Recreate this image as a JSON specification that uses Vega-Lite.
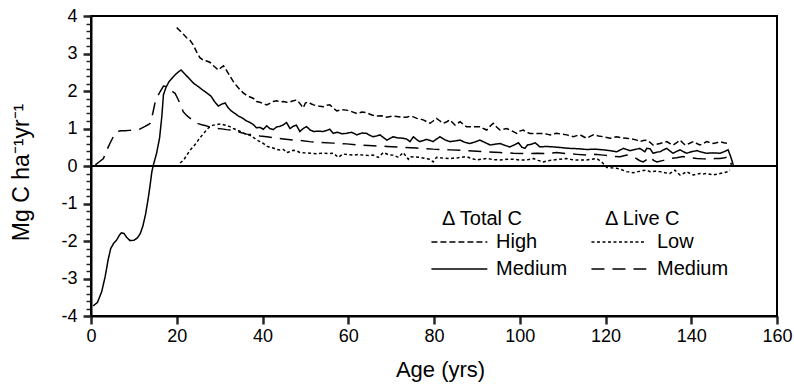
{
  "$schema": "https://vega.github.io/schema/vega-lite/v6.json",
  "width": 686,
  "height": 300,
  "autosize": {"type": "none"},
  "padding": {"left": 91, "top": 16, "right": 17, "bottom": 69},
  "background": "white",
  "config": {
    "font": "Liberation Sans",
    "view": {"stroke": "black", "strokeWidth": 2},
    "axis": {"domainColor": "black", "domainWidth": 2, "labelColor": "black", "titleColor": "black", "grid": false, "labelFont": "Liberation Sans", "titleFont": "Liberation Sans", "titleFontWeight": "normal", "labelFlush": false, "zindex": 2},
    "legend": {"labelFont": "Liberation Sans", "titleFont": "Liberation Sans", "titleFontWeight": "normal", "labelColor": "black", "titleColor": "black"}
  },
  "datasets": {
    "total": [
      {"k":"Medium","a":0.5,"v":-3.73},{"k":"Medium","a":1.5,"v":-3.64},{"k":"Medium","a":2.5,"v":-3.35},{"k":"Medium","a":3.3,"v":-2.95},{"k":"Medium","a":4.0,"v":-2.5},{"k":"Medium","a":4.6,"v":-2.2},{"k":"Medium","a":5.3,"v":-2.06},{"k":"Medium","a":6.0,"v":-1.97},{"k":"Medium","a":6.6,"v":-1.85},{"k":"Medium","a":7.1,"v":-1.78},{"k":"Medium","a":7.7,"v":-1.8},{"k":"Medium","a":8.3,"v":-1.9},{"k":"Medium","a":9.1,"v":-1.99},{"k":"Medium","a":10.0,"v":-1.98},{"k":"Medium","a":10.8,"v":-1.92},{"k":"Medium","a":11.5,"v":-1.8},{"k":"Medium","a":12.1,"v":-1.6},{"k":"Medium","a":12.7,"v":-1.3},{"k":"Medium","a":13.3,"v":-0.9},{"k":"Medium","a":13.8,"v":-0.5},{"k":"Medium","a":14.2,"v":-0.15},{"k":"Medium","a":14.6,"v":0.05},{"k":"Medium","a":15.3,"v":0.34},{"k":"Medium","a":16.0,"v":0.75},{"k":"Medium","a":16.5,"v":1.3},{"k":"Medium","a":16.9,"v":1.9},{"k":"Medium","a":17.5,"v":2.1},{"k":"Medium","a":18.2,"v":2.25},{"k":"Medium","a":18.8,"v":2.33},{"k":"Medium","a":19.6,"v":2.43},{"k":"Medium","a":20.3,"v":2.5},{"k":"Medium","a":21.0,"v":2.56},{"k":"Medium","a":22.0,"v":2.44},{"k":"Medium","a":23.0,"v":2.32},{"k":"Medium","a":24.0,"v":2.2},{"k":"Medium","a":25.0,"v":2.12},{"k":"Medium","a":26.0,"v":2.03},{"k":"Medium","a":27.0,"v":1.95},{"k":"Medium","a":28.0,"v":1.86},{"k":"Medium","a":28.8,"v":1.72},{"k":"Medium","a":29.7,"v":1.6},{"k":"Medium","a":30.5,"v":1.65},{"k":"Medium","a":31.3,"v":1.68},{"k":"Medium","a":32.0,"v":1.55},{"k":"Medium","a":32.8,"v":1.46},{"k":"Medium","a":33.6,"v":1.4},{"k":"Medium","a":34.4,"v":1.33},{"k":"Medium","a":35.3,"v":1.28},{"k":"Medium","a":36.3,"v":1.2},{"k":"Medium","a":37.1,"v":1.16},{"k":"Medium","a":37.9,"v":1.1},{"k":"Medium","a":38.6,"v":1.02},{"k":"Medium","a":39.4,"v":1.03},{"k":"Medium","a":40.2,"v":0.98},{"k":"Medium","a":41.0,"v":1.07},{"k":"Medium","a":41.7,"v":1.0},{"k":"Medium","a":42.5,"v":0.97},{"k":"Medium","a":43.3,"v":1.04},{"k":"Medium","a":44.1,"v":1.06},{"k":"Medium","a":44.9,"v":1.1},{"k":"Medium","a":45.6,"v":1.16},{"k":"Medium","a":46.4,"v":1.0},{"k":"Medium","a":47.2,"v":1.06},{"k":"Medium","a":47.9,"v":1.09},{"k":"Medium","a":48.7,"v":0.92},{"k":"Medium","a":49.5,"v":1.0},{"k":"Medium","a":50.3,"v":1.05},{"k":"Medium","a":51.1,"v":0.96},{"k":"Medium","a":51.9,"v":0.92},{"k":"Medium","a":53.0,"v":0.93},{"k":"Medium","a":54.2,"v":0.92},{"k":"Medium","a":55.0,"v":0.95},{"k":"Medium","a":55.7,"v":0.98},{"k":"Medium","a":56.5,"v":0.87},{"k":"Medium","a":57.5,"v":0.9},{"k":"Medium","a":58.5,"v":0.86},{"k":"Medium","a":59.6,"v":0.87},{"k":"Medium","a":60.8,"v":0.9},{"k":"Medium","a":62.0,"v":0.83},{"k":"Medium","a":63.2,"v":0.88},{"k":"Medium","a":64.3,"v":0.87},{"k":"Medium","a":65.0,"v":0.82},{"k":"Medium","a":65.8,"v":0.78},{"k":"Medium","a":66.6,"v":0.8},{"k":"Medium","a":67.4,"v":0.83},{"k":"Medium","a":68.2,"v":0.76},{"k":"Medium","a":69.0,"v":0.69},{"k":"Medium","a":69.8,"v":0.74},{"k":"Medium","a":70.5,"v":0.78},{"k":"Medium","a":71.6,"v":0.75},{"k":"Medium","a":72.8,"v":0.74},{"k":"Medium","a":73.6,"v":0.72},{"k":"Medium","a":74.4,"v":0.65},{"k":"Medium","a":75.2,"v":0.78},{"k":"Medium","a":76.0,"v":0.7},{"k":"Medium","a":76.7,"v":0.65},{"k":"Medium","a":77.5,"v":0.68},{"k":"Medium","a":78.3,"v":0.71},{"k":"Medium","a":79.1,"v":0.68},{"k":"Medium","a":79.8,"v":0.65},{"k":"Medium","a":80.6,"v":0.72},{"k":"Medium","a":81.4,"v":0.78},{"k":"Medium","a":82.5,"v":0.7},{"k":"Medium","a":83.7,"v":0.65},{"k":"Medium","a":85.0,"v":0.67},{"k":"Medium","a":86.1,"v":0.69},{"k":"Medium","a":87.2,"v":0.63},{"k":"Medium","a":88.4,"v":0.6},{"k":"Medium","a":89.5,"v":0.64},{"k":"Medium","a":90.7,"v":0.69},{"k":"Medium","a":92.0,"v":0.62},{"k":"Medium","a":93.1,"v":0.56},{"k":"Medium","a":94.2,"v":0.58},{"k":"Medium","a":95.4,"v":0.6},{"k":"Medium","a":96.5,"v":0.55},{"k":"Medium","a":97.7,"v":0.51},{"k":"Medium","a":98.7,"v":0.56},{"k":"Medium","a":99.7,"v":0.62},{"k":"Medium","a":100.5,"v":0.5},{"k":"Medium","a":101.2,"v":0.47},{"k":"Medium","a":101.8,"v":0.56},{"k":"Medium","a":102.7,"v":0.58},{"k":"Medium","a":103.6,"v":0.62},{"k":"Medium","a":104.7,"v":0.51},{"k":"Medium","a":106.2,"v":0.52},{"k":"Medium","a":107.8,"v":0.51},{"k":"Medium","a":109.7,"v":0.49},{"k":"Medium","a":111.7,"v":0.47},{"k":"Medium","a":113.6,"v":0.46},{"k":"Medium","a":115.6,"v":0.44},{"k":"Medium","a":117.5,"v":0.45},{"k":"Medium","a":119.5,"v":0.43},{"k":"Medium","a":121.0,"v":0.41},{"k":"Medium","a":122.6,"v":0.38},{"k":"Medium","a":124.2,"v":0.47},{"k":"Medium","a":125.7,"v":0.41},{"k":"Medium","a":126.9,"v":0.44},{"k":"Medium","a":128.0,"v":0.47},{"k":"Medium","a":129.2,"v":0.38},{"k":"Medium","a":129.6,"v":0.47},{"k":"Medium","a":130.4,"v":0.46},{"k":"Medium","a":131.1,"v":0.34},{"k":"Medium","a":132.0,"v":0.37},{"k":"Medium","a":132.7,"v":0.38},{"k":"Medium","a":133.5,"v":0.43},{"k":"Medium","a":134.3,"v":0.47},{"k":"Medium","a":135.0,"v":0.4},{"k":"Medium","a":135.8,"v":0.34},{"k":"Medium","a":136.6,"v":0.39},{"k":"Medium","a":137.4,"v":0.43},{"k":"Medium","a":138.2,"v":0.38},{"k":"Medium","a":138.9,"v":0.34},{"k":"Medium","a":140.1,"v":0.38},{"k":"Medium","a":141.3,"v":0.41},{"k":"Medium","a":142.4,"v":0.37},{"k":"Medium","a":143.6,"v":0.34},{"k":"Medium","a":145.1,"v":0.35},{"k":"Medium","a":146.7,"v":0.34},{"k":"Medium","a":147.6,"v":0.38},{"k":"Medium","a":148.6,"v":0.43},{"k":"Medium","a":149.2,"v":0.25},{"k":"Medium","a":149.8,"v":0.03},
      {"k":"High","a":20.0,"v":3.69},{"k":"High","a":20.8,"v":3.6},{"k":"High","a":21.5,"v":3.52},{"k":"High","a":22.3,"v":3.42},{"k":"High","a":23.1,"v":3.35},{"k":"High","a":23.9,"v":3.22},{"k":"High","a":24.6,"v":3.05},{"k":"High","a":25.4,"v":2.89},{"k":"High","a":26.2,"v":2.82},{"k":"High","a":27.0,"v":2.8},{"k":"High","a":27.8,"v":2.76},{"k":"High","a":28.5,"v":2.68},{"k":"High","a":29.3,"v":2.6},{"k":"High","a":29.7,"v":2.56},{"k":"High","a":30.3,"v":2.62},{"k":"High","a":30.9,"v":2.67},{"k":"High","a":31.6,"v":2.55},{"k":"High","a":32.4,"v":2.4},{"k":"High","a":33.2,"v":2.25},{"k":"High","a":34.0,"v":2.13},{"k":"High","a":34.8,"v":2.03},{"k":"High","a":35.5,"v":1.95},{"k":"High","a":36.3,"v":1.88},{"k":"High","a":37.1,"v":1.84},{"k":"High","a":37.9,"v":1.8},{"k":"High","a":38.6,"v":1.72},{"k":"High","a":39.4,"v":1.7},{"k":"High","a":40.2,"v":1.66},{"k":"High","a":41.0,"v":1.63},{"k":"High","a":41.7,"v":1.67},{"k":"High","a":42.5,"v":1.72},{"k":"High","a":43.3,"v":1.74},{"k":"High","a":44.1,"v":1.71},{"k":"High","a":44.9,"v":1.72},{"k":"High","a":45.6,"v":1.7},{"k":"High","a":46.4,"v":1.71},{"k":"High","a":47.2,"v":1.74},{"k":"High","a":48.0,"v":1.76},{"k":"High","a":48.7,"v":1.67},{"k":"High","a":49.5,"v":1.55},{"k":"High","a":50.0,"v":1.68},{"k":"High","a":50.7,"v":1.71},{"k":"High","a":51.3,"v":1.66},{"k":"High","a":51.9,"v":1.63},{"k":"High","a":53.0,"v":1.6},{"k":"High","a":54.2,"v":1.58},{"k":"High","a":55.0,"v":1.62},{"k":"High","a":55.7,"v":1.63},{"k":"High","a":56.5,"v":1.55},{"k":"High","a":57.3,"v":1.47},{"k":"High","a":58.5,"v":1.5},{"k":"High","a":59.6,"v":1.49},{"k":"High","a":60.8,"v":1.45},{"k":"High","a":62.0,"v":1.4},{"k":"High","a":63.2,"v":1.44},{"k":"High","a":64.3,"v":1.42},{"k":"High","a":65.5,"v":1.36},{"k":"High","a":66.6,"v":1.33},{"k":"High","a":67.8,"v":1.34},{"k":"High","a":69.0,"v":1.3},{"k":"High","a":70.2,"v":1.33},{"k":"High","a":71.3,"v":1.32},{"k":"High","a":72.4,"v":1.3},{"k":"High","a":73.6,"v":1.3},{"k":"High","a":74.4,"v":1.33},{"k":"High","a":75.2,"v":1.31},{"k":"High","a":76.0,"v":1.27},{"k":"High","a":76.7,"v":1.25},{"k":"High","a":77.5,"v":1.23},{"k":"High","a":78.3,"v":1.18},{"k":"High","a":79.1,"v":1.14},{"k":"High","a":79.8,"v":1.2},{"k":"High","a":80.6,"v":1.27},{"k":"High","a":81.4,"v":1.2},{"k":"High","a":82.2,"v":1.14},{"k":"High","a":83.0,"v":1.18},{"k":"High","a":83.7,"v":1.23},{"k":"High","a":84.3,"v":1.16},{"k":"High","a":84.9,"v":1.09},{"k":"High","a":85.5,"v":1.14},{"k":"High","a":86.1,"v":1.18},{"k":"High","a":86.9,"v":1.1},{"k":"High","a":87.6,"v":1.05},{"k":"High","a":89.1,"v":1.05},{"k":"High","a":90.7,"v":1.05},{"k":"High","a":91.5,"v":1.0},{"k":"High","a":92.3,"v":0.96},{"k":"High","a":93.0,"v":1.05},{"k":"High","a":93.8,"v":1.14},{"k":"High","a":94.6,"v":1.04},{"k":"High","a":95.4,"v":0.96},{"k":"High","a":96.2,"v":0.98},{"k":"High","a":97.0,"v":1.0},{"k":"High","a":98.1,"v":0.94},{"k":"High","a":99.3,"v":0.87},{"k":"High","a":100.0,"v":0.93},{"k":"High","a":100.8,"v":0.96},{"k":"High","a":101.6,"v":0.9},{"k":"High","a":102.4,"v":0.87},{"k":"High","a":103.6,"v":0.87},{"k":"High","a":105.5,"v":0.87},{"k":"High","a":106.3,"v":0.85},{"k":"High","a":107.1,"v":0.83},{"k":"High","a":107.9,"v":0.86},{"k":"High","a":108.6,"v":0.87},{"k":"High","a":109.8,"v":0.85},{"k":"High","a":111.0,"v":0.83},{"k":"High","a":111.8,"v":0.8},{"k":"High","a":112.5,"v":0.78},{"k":"High","a":113.3,"v":0.81},{"k":"High","a":114.1,"v":0.83},{"k":"High","a":114.9,"v":0.78},{"k":"High","a":115.6,"v":0.74},{"k":"High","a":116.4,"v":0.79},{"k":"High","a":117.2,"v":0.83},{"k":"High","a":118.4,"v":0.8},{"k":"High","a":119.5,"v":0.78},{"k":"High","a":120.3,"v":0.76},{"k":"High","a":121.1,"v":0.74},{"k":"High","a":121.9,"v":0.76},{"k":"High","a":122.6,"v":0.78},{"k":"High","a":123.8,"v":0.75},{"k":"High","a":124.9,"v":0.74},{"k":"High","a":126.1,"v":0.72},{"k":"High","a":127.3,"v":0.69},{"k":"High","a":128.0,"v":0.65},{"k":"High","a":128.8,"v":0.68},{"k":"High","a":129.6,"v":0.69},{"k":"High","a":130.4,"v":0.63},{"k":"High","a":131.1,"v":0.56},{"k":"High","a":131.9,"v":0.58},{"k":"High","a":132.7,"v":0.6},{"k":"High","a":133.5,"v":0.63},{"k":"High","a":134.3,"v":0.65},{"k":"High","a":135.0,"v":0.6},{"k":"High","a":135.8,"v":0.56},{"k":"High","a":136.6,"v":0.62},{"k":"High","a":137.4,"v":0.69},{"k":"High","a":138.0,"v":0.62},{"k":"High","a":138.6,"v":0.56},{"k":"High","a":139.5,"v":0.6},{"k":"High","a":140.5,"v":0.65},{"k":"High","a":141.3,"v":0.6},{"k":"High","a":142.0,"v":0.56},{"k":"High","a":142.8,"v":0.6},{"k":"High","a":143.6,"v":0.65},{"k":"High","a":144.4,"v":0.62},{"k":"High","a":145.1,"v":0.6},{"k":"High","a":145.9,"v":0.62},{"k":"High","a":146.7,"v":0.65},{"k":"High","a":147.6,"v":0.62},{"k":"High","a":148.6,"v":0.6}
    ],
    "live": [
      {"k":"Medium","a":1.0,"v":0.03},{"k":"Medium","a":1.8,"v":0.1},{"k":"Medium","a":2.9,"v":0.2},{"k":"Medium","a":3.6,"v":0.4},{"k":"Medium","a":4.4,"v":0.6},{"k":"Medium","a":5.2,"v":0.78},{"k":"Medium","a":6.0,"v":0.92},{"k":"Medium","a":7.0,"v":0.94},{"k":"Medium","a":7.9,"v":0.94},{"k":"Medium","a":9.0,"v":0.95},{"k":"Medium","a":10.3,"v":0.96},{"k":"Medium","a":11.5,"v":0.99},{"k":"Medium","a":12.5,"v":1.05},{"k":"Medium","a":13.3,"v":1.1},{"k":"Medium","a":13.8,"v":1.14},{"k":"Medium","a":14.4,"v":1.4},{"k":"Medium","a":14.9,"v":1.67},{"k":"Medium","a":15.5,"v":1.85},{"k":"Medium","a":16.1,"v":1.98},{"k":"Medium","a":16.9,"v":2.13},{"k":"Medium","a":17.4,"v":2.12},{"k":"Medium","a":18.0,"v":2.08},{"k":"Medium","a":18.6,"v":2.02},{"k":"Medium","a":19.2,"v":1.97},{"k":"Medium","a":19.6,"v":1.94},{"k":"Medium","a":20.3,"v":1.78},{"k":"Medium","a":21.1,"v":1.58},{"k":"Medium","a":21.5,"v":1.45},{"k":"Medium","a":22.2,"v":1.36},{"k":"Medium","a":22.7,"v":1.31},{"k":"Medium","a":23.5,"v":1.24},{"k":"Medium","a":24.3,"v":1.16},{"k":"Medium","a":25.0,"v":1.13},{"k":"Medium","a":25.8,"v":1.1},{"k":"Medium","a":26.6,"v":1.08},{"k":"Medium","a":27.5,"v":1.05},{"k":"Medium","a":28.5,"v":1.02},{"k":"Medium","a":29.3,"v":1.0},{"k":"Medium","a":30.5,"v":0.99},{"k":"Medium","a":31.6,"v":0.97},{"k":"Medium","a":33.2,"v":0.95},{"k":"Medium","a":34.7,"v":0.9},{"k":"Medium","a":36.3,"v":0.85},{"k":"Medium","a":37.9,"v":0.83},{"k":"Medium","a":39.4,"v":0.8},{"k":"Medium","a":41.0,"v":0.78},{"k":"Medium","a":42.9,"v":0.75},{"k":"Medium","a":44.9,"v":0.72},{"k":"Medium","a":47.2,"v":0.69},{"k":"Medium","a":48.7,"v":0.68},{"k":"Medium","a":51.0,"v":0.65},{"k":"Medium","a":53.4,"v":0.63},{"k":"Medium","a":56.5,"v":0.61},{"k":"Medium","a":59.6,"v":0.59},{"k":"Medium","a":62.7,"v":0.56},{"k":"Medium","a":65.8,"v":0.54},{"k":"Medium","a":69.0,"v":0.52},{"k":"Medium","a":72.1,"v":0.5},{"k":"Medium","a":75.9,"v":0.48},{"k":"Medium","a":79.8,"v":0.45},{"k":"Medium","a":83.7,"v":0.43},{"k":"Medium","a":87.6,"v":0.41},{"k":"Medium","a":91.5,"v":0.38},{"k":"Medium","a":95.4,"v":0.36},{"k":"Medium","a":98.5,"v":0.34},{"k":"Medium","a":101.6,"v":0.33},{"k":"Medium","a":104.0,"v":0.34},{"k":"Medium","a":106.3,"v":0.33},{"k":"Medium","a":108.6,"v":0.36},{"k":"Medium","a":111.0,"v":0.33},{"k":"Medium","a":113.3,"v":0.31},{"k":"Medium","a":115.6,"v":0.29},{"k":"Medium","a":117.5,"v":0.31},{"k":"Medium","a":119.5,"v":0.29},{"k":"Medium","a":121.5,"v":0.26},{"k":"Medium","a":123.4,"v":0.25},{"k":"Medium","a":125.0,"v":0.29},{"k":"Medium","a":126.9,"v":0.22},{"k":"Medium","a":128.0,"v":0.14},{"k":"Medium","a":128.8,"v":0.11},{"k":"Medium","a":130.0,"v":0.2},{"k":"Medium","a":130.4,"v":0.25},{"k":"Medium","a":131.2,"v":0.15},{"k":"Medium","a":132.0,"v":0.11},{"k":"Medium","a":133.5,"v":0.15},{"k":"Medium","a":135.0,"v":0.2},{"k":"Medium","a":136.6,"v":0.22},{"k":"Medium","a":138.1,"v":0.25},{"k":"Medium","a":139.7,"v":0.22},{"k":"Medium","a":141.3,"v":0.2},{"k":"Medium","a":142.8,"v":0.19},{"k":"Medium","a":144.4,"v":0.18},{"k":"Medium","a":145.5,"v":0.2},{"k":"Medium","a":146.7,"v":0.2},{"k":"Medium","a":147.8,"v":0.22},{"k":"Medium","a":148.6,"v":0.24},{"k":"Medium","a":149.4,"v":0.03},
      {"k":"Low","a":20.8,"v":0.08},{"k":"Low","a":21.6,"v":0.16},{"k":"Low","a":22.3,"v":0.28},{"k":"Low","a":23.1,"v":0.42},{"k":"Low","a":23.9,"v":0.52},{"k":"Low","a":24.6,"v":0.62},{"k":"Low","a":25.4,"v":0.75},{"k":"Low","a":26.2,"v":0.86},{"k":"Low","a":27.0,"v":0.97},{"k":"Low","a":27.8,"v":1.06},{"k":"Low","a":28.5,"v":1.09},{"k":"Low","a":29.3,"v":1.1},{"k":"Low","a":30.1,"v":1.12},{"k":"Low","a":30.9,"v":1.1},{"k":"Low","a":31.6,"v":1.08},{"k":"Low","a":32.4,"v":1.05},{"k":"Low","a":33.2,"v":1.0},{"k":"Low","a":34.0,"v":0.96},{"k":"Low","a":34.8,"v":0.92},{"k":"Low","a":35.5,"v":0.88},{"k":"Low","a":36.3,"v":0.84},{"k":"Low","a":37.1,"v":0.82},{"k":"Low","a":37.9,"v":0.76},{"k":"Low","a":38.6,"v":0.7},{"k":"Low","a":39.4,"v":0.65},{"k":"Low","a":40.2,"v":0.6},{"k":"Low","a":41.0,"v":0.53},{"k":"Low","a":41.7,"v":0.5},{"k":"Low","a":42.5,"v":0.48},{"k":"Low","a":43.3,"v":0.44},{"k":"Low","a":44.1,"v":0.43},{"k":"Low","a":44.9,"v":0.44},{"k":"Low","a":45.6,"v":0.36},{"k":"Low","a":46.4,"v":0.38},{"k":"Low","a":47.2,"v":0.42},{"k":"Low","a":48.0,"v":0.4},{"k":"Low","a":48.7,"v":0.36},{"k":"Low","a":49.9,"v":0.35},{"k":"Low","a":51.1,"v":0.34},{"k":"Low","a":52.6,"v":0.33},{"k":"Low","a":54.2,"v":0.34},{"k":"Low","a":55.3,"v":0.33},{"k":"Low","a":56.5,"v":0.34},{"k":"Low","a":57.7,"v":0.23},{"k":"Low","a":58.8,"v":0.32},{"k":"Low","a":60.0,"v":0.3},{"k":"Low","a":61.2,"v":0.29},{"k":"Low","a":62.4,"v":0.31},{"k":"Low","a":63.5,"v":0.29},{"k":"Low","a":64.7,"v":0.28},{"k":"Low","a":65.8,"v":0.29},{"k":"Low","a":67.0,"v":0.23},{"k":"Low","a":68.2,"v":0.36},{"k":"Low","a":69.4,"v":0.3},{"k":"Low","a":70.5,"v":0.29},{"k":"Low","a":71.7,"v":0.23},{"k":"Low","a":72.8,"v":0.36},{"k":"Low","a":74.0,"v":0.18},{"k":"Low","a":74.4,"v":0.25},{"k":"Low","a":75.5,"v":0.24},{"k":"Low","a":76.7,"v":0.23},{"k":"Low","a":78.0,"v":0.2},{"k":"Low","a":79.1,"v":0.18},{"k":"Low","a":79.8,"v":0.11},{"k":"Low","a":80.6,"v":0.23},{"k":"Low","a":82.1,"v":0.21},{"k":"Low","a":83.7,"v":0.2},{"k":"Low","a":85.6,"v":0.22},{"k":"Low","a":87.6,"v":0.25},{"k":"Low","a":88.8,"v":0.2},{"k":"Low","a":90.0,"v":0.16},{"k":"Low","a":91.1,"v":0.18},{"k":"Low","a":92.3,"v":0.2},{"k":"Low","a":93.8,"v":0.17},{"k":"Low","a":95.4,"v":0.16},{"k":"Low","a":97.0,"v":0.18},{"k":"Low","a":98.5,"v":0.18},{"k":"Low","a":100.0,"v":0.16},{"k":"Low","a":101.6,"v":0.16},{"k":"Low","a":103.2,"v":0.2},{"k":"Low","a":104.3,"v":0.15},{"k":"Low","a":105.5,"v":0.11},{"k":"Low","a":106.6,"v":0.14},{"k":"Low","a":107.8,"v":0.16},{"k":"Low","a":109.4,"v":0.18},{"k":"Low","a":110.9,"v":0.2},{"k":"Low","a":112.1,"v":0.17},{"k":"Low","a":113.3,"v":0.16},{"k":"Low","a":115.6,"v":0.16},{"k":"Low","a":117.9,"v":0.2},{"k":"Low","a":119.1,"v":0.11},{"k":"Low","a":120.3,"v":-0.04},{"k":"Low","a":121.5,"v":-0.05},{"k":"Low","a":122.6,"v":-0.06},{"k":"Low","a":123.8,"v":-0.1},{"k":"Low","a":124.9,"v":-0.15},{"k":"Low","a":126.5,"v":-0.18},{"k":"Low","a":127.6,"v":-0.15},{"k":"Low","a":128.8,"v":-0.12},{"k":"Low","a":129.6,"v":-0.11},{"k":"Low","a":130.4,"v":-0.15},{"k":"Low","a":131.5,"v":-0.14},{"k":"Low","a":132.7,"v":-0.15},{"k":"Low","a":133.9,"v":-0.18},{"k":"Low","a":135.0,"v":-0.2},{"k":"Low","a":136.2,"v":-0.11},{"k":"Low","a":136.8,"v":-0.18},{"k":"Low","a":137.4,"v":-0.24},{"k":"Low","a":138.2,"v":-0.2},{"k":"Low","a":138.9,"v":-0.15},{"k":"Low","a":139.7,"v":-0.2},{"k":"Low","a":140.5,"v":-0.24},{"k":"Low","a":141.3,"v":-0.22},{"k":"Low","a":142.0,"v":-0.2},{"k":"Low","a":142.8,"v":-0.21},{"k":"Low","a":143.6,"v":-0.2},{"k":"Low","a":144.4,"v":-0.22},{"k":"Low","a":145.1,"v":-0.24},{"k":"Low","a":145.9,"v":-0.22},{"k":"Low","a":146.7,"v":-0.2},{"k":"Low","a":147.6,"v":-0.18},{"k":"Low","a":148.6,"v":-0.15},{"k":"Low","a":149.0,"v":-0.11}
    ]
  },
  "layer": [
    {
      "data": {"values": [{"y": 0}]},
      "mark": {"type": "rule", "color": "black", "strokeWidth": 2},
      "encoding": {
        "y": {"field": "y", "type": "quantitative", "scale": {"domain": [-4, 4], "nice": false},
          "axis": {"orient": "left", "values": [-4,-3.8,-3.6,-3.4,-3.2,-3,-2.8,-2.6,-2.4,-2.2,-2,-1.8,-1.6,-1.4,-1.2,-1,-0.8,-0.6,-0.4,-0.2,0,0.2,0.4,0.6,0.8,1,1.2,1.4,1.6,1.8,2,2.2,2.4,2.6,2.8,3,3.2,3.4,3.6,3.8,4], "labels": false, "domain": false, "ticks": true, "tickColor": "#262626", "tickSize": 5, "tickWidth": 1.5, "title": null}}
      }
    },
    {
      "data": {"name": "total"},
      "mark": {"type": "line", "color": "black", "strokeWidth": 1.5},
      "encoding": {
        "x": {"field": "a", "type": "quantitative", "scale": {"domain": [0, 160], "nice": false},
          "axis": {"values": [0,20,40,60,80,100,120,140,160], "ticks": true, "tickColor": "#262626", "tickSize": 8, "tickWidth": 2.5, "labelFontSize": 18, "labelPadding": 3, "title": "Age (yrs)", "titleFontSize": 22, "titlePadding": 14, "titleX": 349}},
        "y": {"field": "v", "type": "quantitative", "scale": {"domain": [-4, 4], "nice": false},
          "axis": {"orient": "left", "values": [-4,-3,-2,-1,0,1,2,3,4], "ticks": true, "tickColor": "#262626", "tickSize": 8, "tickWidth": 2.5, "labelFontSize": 18, "labelPadding": 6, "labelExpr": "replace(datum.label, '\u2212', '-')", "title": "Mg C ha\u207b\u00b9yr\u207b\u00b9", "titleFontSize": 23, "titlePadding": 27, "titleY": 156}},
        "strokeDash": {"field": "k", "type": "nominal",
          "scale": {"domain": ["High", "Medium"], "range": [[6, 3], [1, 0]]},
          "legend": {"orient": "none", "legendX": 351, "legendY": 193, "title": "\u0394 Total C", "titleFontSize": 20, "titlePadding": 3, "labelFontSize": 20, "labelOffset": 34, "symbolType": "M-3.68,0H6.32", "symbolSize": 125, "symbolStrokeWidth": 1.5, "symbolStrokeColor": "black", "rowPadding": 7, "padding": 0}}
      }
    },
    {
      "data": {"name": "live"},
      "mark": {"type": "line", "color": "black", "strokeWidth": 1.5},
      "encoding": {
        "x": {"field": "a", "type": "quantitative"},
        "y": {"field": "v", "type": "quantitative", "axis": null},
        "strokeDash": {"field": "k", "type": "nominal",
          "scale": {"domain": ["Low", "Medium"], "range": [[3, 2.5], [13, 8]]},
          "legend": {"orient": "none", "legendX": 514, "legendY": 193, "title": "\u0394 Live C", "titleFontSize": 20, "titlePadding": 3, "labelFontSize": 20, "labelOffset": 32, "symbolType": "M-4.21,0H5.6", "symbolSize": 125, "symbolStrokeWidth": 1.5, "symbolStrokeColor": "black", "rowPadding": 7, "padding": 0}}
      }
    }
  ],
  "resolve": {"scale": {"strokeDash": "independent"}, "axis": {"y": "independent"}}
}
